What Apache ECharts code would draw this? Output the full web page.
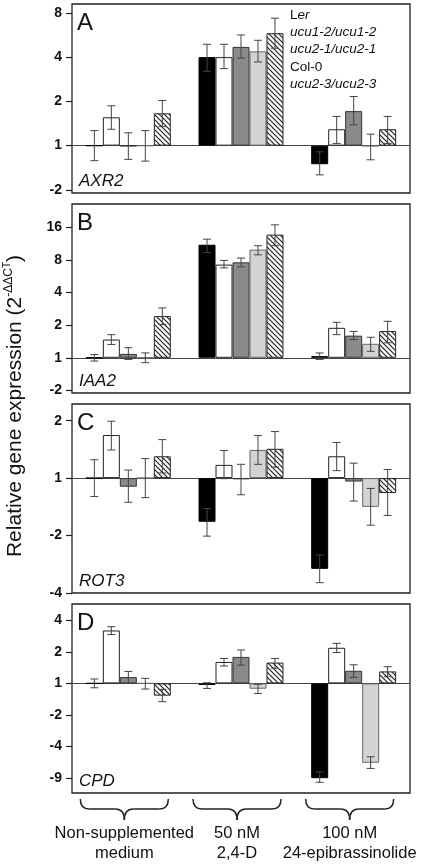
<!DOCTYPE html>
<html><head><meta charset="utf-8">
<script src="https://cdn.jsdelivr.net/npm/echarts@6/dist/echarts.min.js"></script>
<style>html,body{margin:0;padding:0;background:#fff}#c{width:422px;height:867px}</style>
</head><body><div id="c"></div>
<script>
// ---------- DATA (log2 fold change; rows = genotype, cols = condition) ----------
const categories = ['Non-supplemented\nmedium', '50 nM\n2,4-D', '100 nM\n24-epibrassinolide'];
const genotypes = ['Ler', 'ucu1-2/ucu1-2', 'ucu2-1/ucu2-1', 'Col-0', 'ucu2-3/ucu2-3'];
const genes = ['AXR2', 'IAA2', 'ROT3', 'CPD'];
const panelLetters = ['A', 'B', 'C', 'D'];

const axr2Mean = [[0.00, 2.00, -0.42], [0.64, 2.00, 0.37], [-0.01, 2.23, 0.78], [0.00, 2.13, -0.01], [0.73, 2.54, 0.37]];
const axr2Low  = [[-0.34, 1.68, -0.66], [0.37, 1.74, 0.05], [-0.31, 1.98, 0.47], [-0.35, 1.89, -0.32], [0.43, 2.20, 0.05]];
const axr2High = [[0.34, 2.29, -0.14], [0.90, 2.29, 0.66], [0.29, 2.50, 1.11], [0.34, 2.38, 0.26], [1.02, 2.88, 0.66]];

const iaa2Mean = [[0.00, 3.47, 0.05], [0.56, 2.86, 0.92], [0.12, 2.93, 0.68], [0.00, 3.32, 0.43], [1.28, 3.78, 0.82]];
const iaa2Low  = [[-0.10, 3.23, -0.05], [0.41, 2.76, 0.71], [-0.05, 2.79, 0.56], [-0.15, 3.16, 0.20], [1.02, 3.44, 0.46]];
const iaa2High = [[0.10, 3.64, 0.15], [0.71, 2.99, 1.09], [0.31, 3.06, 0.81], [0.15, 3.44, 0.63], [1.53, 4.08, 1.12]];

const rot3Mean = [[0.00, -0.76, -1.58], [0.75, 0.23, 0.38], [-0.15, -0.02, -0.06], [0.00, 0.49, -0.50], [0.38, 0.51, -0.26]];
const rot3Low  = [[-0.32, -1.01, -1.82], [0.49, -0.01, 0.13], [-0.42, -0.29, -0.40], [-0.34, 0.24, -0.82], [0.09, 0.19, -0.65]];
const rot3High = [[0.32, -0.53, -1.34], [0.99, 0.48, 0.62], [0.14, 0.24, 0.26], [0.34, 0.74, -0.18], [0.67, 0.81, 0.15]];

const cpdMean = [[0.00, -0.05, -3.01], [1.68, 0.68, 1.13], [0.20, 0.84, 0.40], [0.00, -0.17, -2.52], [-0.39, 0.66, 0.38]];
const cpdLow  = [[-0.14, -0.16, -3.14], [1.55, 0.55, 0.98], [0.00, 0.58, 0.19], [-0.18, -0.32, -2.70], [-0.58, 0.48, 0.21]];
const cpdHigh = [[0.14, 0.02, -2.81], [1.80, 0.79, 1.27], [0.38, 1.06, 0.59], [0.16, -0.03, -2.33], [-0.19, 0.79, 0.53]];

// tick positions (log2) and their printed labels
const tickPosA = [-1, 0, 1, 2, 3];        const tickLabA = ['-2', '1', '2', '4', '8'];
const tickPosB = [-1, 0, 1, 2, 3, 4];     const tickLabB = ['-2', '1', '2', '4', '8', '16'];
const tickPosC = [-2, -1, 0, 1];          const tickLabC = ['-4', '-2', '1', '2'];
const tickPosD = [-3, -2, -1, 0, 1, 2];   const tickLabD = ['-9', '-4', '-2', '1', '2', '4'];

// ---------- LAYOUT ----------
const panels = [
  {mean: axr2Mean, low: axr2Low, high: axr2High, pos: tickPosA, lab: tickLabA, min: -1.07, max: 3.2},
  {mean: iaa2Mean, low: iaa2Low, high: iaa2High, pos: tickPosB, lab: tickLabB, min: -1.08, max: 4.72},
  {mean: rot3Mean, low: rot3Low, high: rot3High, pos: tickPosC, lab: tickLabC, min: -2, max: 1.29},
  {mean: cpdMean, low: cpdLow, high: cpdHigh, pos: tickPosD, lab: tickLabD, min: -3.48, max: 2.52}
];
const GL = 72, GW = 338, GH = 189, TOPS = [4, 204, 404, 604];
const CAT_GAP = 0.246;
const FONT = '"Liberation Sans", Arial, Helvetica, sans-serif';

function hatch() {
  const n = 5, c = document.createElement('canvas');
  c.width = n; c.height = n;
  const g = c.getContext('2d');
  g.fillStyle = '#fff'; g.fillRect(0, 0, n, n);
  g.strokeStyle = '#222'; g.lineWidth = 1.2;
  g.beginPath();
  g.moveTo(-1, -1); g.lineTo(n + 1, n + 1);
  g.moveTo(-1, n - 1); g.lineTo(1, n + 1);
  g.moveTo(n - 1, -1); g.lineTo(n + 1, 1);
  g.stroke();
  return c;
}
const styles = [
  {color: '#000', borderColor: '#000'},
  {color: '#fff', borderColor: '#222'},
  {color: '#8a8a8a', borderColor: '#333'},
  {color: '#d3d3d3', borderColor: '#666'},
  {color: {image: hatch(), repeat: 'repeat'}, borderColor: '#222'}
];

const grid = [], xAxis = [], yAxis = [], series = [];
panels.forEach((p, k) => {
  grid.push({left: GL, width: GW, top: TOPS[k], height: GH, show: true, borderColor: '#222', borderWidth: 1.3, backgroundColor: 'transparent'});
  xAxis.push({type: 'category', gridIndex: k, data: categories, axisLabel: {show: false}, axisTick: {show: false},
    axisLine: {show: true, onZero: true, lineStyle: {color: '#444', width: 1}}});
  yAxis.push({type: 'value', gridIndex: k, min: p.min, max: p.max, splitLine: {show: false},
    axisLine: {show: false},
    axisTick: {show: true, length: 6, customValues: p.pos, lineStyle: {color: '#222', width: 1.2}},
    axisLabel: {show: true, customValues: p.pos, margin: 10, fontFamily: FONT, fontSize: 14, fontWeight: 'bold', color: '#111',
      formatter: v => { const i = p.pos.findIndex(t => Math.abs(t - v) < 1e-6); return i >= 0 ? p.lab[i] : ''; }}});
  genotypes.forEach((gname, g) => {
    series.push({type: 'bar', name: gname, xAxisIndex: k, yAxisIndex: k, data: p.mean[g],
      barGap: '0%', barCategoryGap: (CAT_GAP * 100) + '%',
      itemStyle: Object.assign({borderWidth: 1}, styles[g]), emphasis: {disabled: true}, animation: false});
  });
  const errData = [];
  genotypes.forEach((gname, g) => categories.forEach((c, ci) => errData.push([ci, g, p.low[g][ci], p.high[g][ci]])));
  series.push({type: 'custom', xAxisIndex: k, yAxisIndex: k, data: errData, z: 10, animation: false,
    encode: {x: 0, y: [2, 3]},
    renderItem: (params, api) => {
      const c = api.value(0), g = api.value(1);
      const lo = api.coord([c, api.value(2)]), hi = api.coord([c, api.value(3)]);
      const band = api.size([1, 0])[0];
      const bw = band * (1 - CAT_GAP) / 5;
      const x = lo[0] + (g - 2) * bw;
      const cap = 4, st = {stroke: '#444', lineWidth: 1};
      return {type: 'group', children: [
        {type: 'line', shape: {x1: x, y1: lo[1], x2: x, y2: hi[1]}, style: st},
        {type: 'line', shape: {x1: x - cap, y1: lo[1], x2: x + cap, y2: lo[1]}, style: st},
        {type: 'line', shape: {x1: x - cap, y1: hi[1], x2: x + cap, y2: hi[1]}, style: st}
      ]};
    }});
});

// ---------- ANNOTATIONS ----------
const graphic = [];
panels.forEach((p, k) => {
  graphic.push({type: 'text', x: GL + 5, y: TOPS[k] + 7, z: 20,
    style: {text: panelLetters[k], font: '24px ' + FONT, fill: '#111'}});
  graphic.push({type: 'text', x: GL + 7, y: TOPS[k] + GH - 20, z: 20,
    style: {text: genes[k], font: 'italic 17px ' + FONT, fill: '#111'}});
});
// legend (text only)
const legendRich = ['{n|L}{i|er}', '{i|ucu1-2/ucu1-2}', '{i|ucu2-1/ucu2-1}', '{n|Col-0}', '{i|ucu2-3/ucu2-3}'];
legendRich.forEach((t, i) => {
  graphic.push({type: 'text', x: 290, y: 8 + i * 17.3, z: 20,
    style: {text: t, rich: {n: {font: '13.5px ' + FONT, fill: '#111'}, i: {font: 'italic 13.5px ' + FONT, fill: '#111'}}}});
});
// y axis title
graphic.push({type: 'text', z: 20, x: 15, y: 406, rotation: Math.PI / 2,
  style: {text: 'Relative gene expression (2{sup|-ΔΔC}{sub|T}{n|)}', align: 'center', verticalAlign: 'middle',
    font: '21px ' + FONT, fill: '#111',
    rich: {sup: {fontSize: 12, fontFamily: FONT, verticalAlign: 'top', lineHeight: 25, fill: '#111'},
      sub: {fontSize: 10, fontFamily: FONT, verticalAlign: 'top', lineHeight: 17, fill: '#111'},
      n: {fontSize: 21, fontFamily: FONT, fill: '#111'}}}});
// braces and condition labels
const bandW = GW / categories.length;
const braceStyle = {stroke: '#222', lineWidth: 1.5, fill: null};
categories.forEach((c, i) => {
  const cx = GL + bandW * (i + 0.5) - 4;
  const x0 = cx - 44, x1 = cx + 44, y0 = 799, ym = 809, yt = 820, r = 9;
  const curve = (ax, ay, qx, qy, bx, by) => ({type: 'bezierCurve', z: 20,
    shape: {x1: ax, y1: ay, cpx1: qx, cpy1: qy, x2: bx, y2: by}, style: braceStyle});
  graphic.push(curve(x0, y0, x0, ym, x0 + r, ym));
  graphic.push({type: 'line', z: 20, shape: {x1: x0 + r, y1: ym, x2: cx - r, y2: ym}, style: braceStyle});
  graphic.push(curve(cx - r, ym, cx, ym, cx, yt));
  graphic.push(curve(cx, yt, cx, ym, cx + r, ym));
  graphic.push({type: 'line', z: 20, shape: {x1: cx + r, y1: ym, x2: x1 - r, y2: ym}, style: braceStyle});
  graphic.push(curve(x1 - r, ym, x1, ym, x1, y0));
  graphic.push({type: 'text', z: 20, x: cx, y: 823,
    style: {text: c, align: 'center', verticalAlign: 'top', font: '16.5px ' + FONT, lineHeight: 20, fill: '#111'}});
});

const chart = echarts.init(document.getElementById('c'), null, {renderer: 'canvas'});
chart.setOption({animation: false, grid, xAxis, yAxis, series, graphic});
</script></body></html>
